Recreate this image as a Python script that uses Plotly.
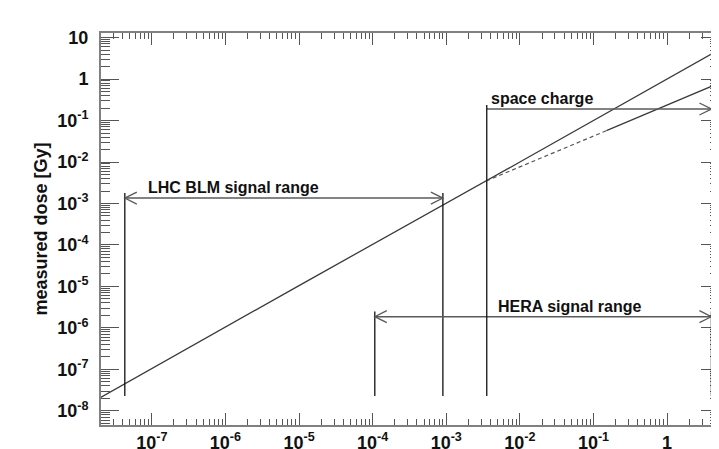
import numpy as np
import plotly.graph_objects as go

# ---- data ----
ideal_x = [1e-8, 1e-5, 1e-2, 10]
ideal_y = [1.05e-8, 1.05e-5, 1.0e-2, 10]

sc_dash_x = [3.5e-3, 1e-2, 3e-2, 0.15]
sc_dash_y = [3.5e-3, 7.7e-3, 1.75e-2, 5.7e-2]
sc_solid_x = [0.15, 1.0, 10.0]
sc_solid_y = [5.7e-2, 0.237, 1.32]

# ranges (arrows)
range_labels = ["LHC BLM signal range", "HERA signal range", "space charge"]
range_x0 = [4.3e-8, 1.07e-4, 3.55e-3]
range_x1 = [9.0e-4, 4.0, 4.0]
range_y = [1.35e-3, 1.87e-6, 0.19]
range_text_x = [8.3e-8, 4.7e-3, 3.8e-3]
range_left_head = [True, True, False]
range_vtop = [1.8e-3, 2.5e-6, 0.236]
range_vbottom = [2.3e-8, 2.3e-8, 2.3e-8]

x_tickvals = [1e-7, 1e-6, 1e-5, 1e-4, 1e-3, 1e-2, 1e-1, 1]
x_ticktext = ["10<sup>-7</sup>", "10<sup>-6</sup>", "10<sup>-5</sup>", "10<sup>-4</sup>",
              "10<sup>-3</sup>", "10<sup>-2</sup>", "10<sup>-1</sup>", "1"]
y_tickvals = [1e-8, 1e-7, 1e-6, 1e-5, 1e-4, 1e-3, 1e-2, 1e-1, 1, 10]
y_ticktext = ["10<sup>-8</sup>", "10<sup>-7</sup>", "10<sup>-6</sup>", "10<sup>-5</sup>",
              "10<sup>-4</sup>", "10<sup>-3</sup>", "10<sup>-2</sup>", "10<sup>-1</sup>", "1", "10"]

y_title = "measured dose [Gy]"

FONT = "Liberation Sans, Arial, sans-serif"
LINE_COL = "#3a3a3a"

fig = go.Figure()

fig.add_trace(go.Scatter(x=ideal_x, y=ideal_y, mode="lines",
                         line=dict(color=LINE_COL, width=1.3), showlegend=False))
fig.add_trace(go.Scatter(x=sc_dash_x, y=sc_dash_y, mode="lines",
                         line=dict(color="#555", width=1.2, dash="4px,3px"), showlegend=False))
fig.add_trace(go.Scatter(x=sc_solid_x, y=sc_solid_y, mode="lines",
                         line=dict(color=LINE_COL, width=1.3), showlegend=False))

shapes = []
annotations = []
HL = 12  # head length px
HW = 6   # head half width px
for i, lab in enumerate(range_labels):
    shapes.append(dict(type="line", xref="x", yref="y",
                       x0=range_x0[i], x1=range_x1[i], y0=range_y[i], y1=range_y[i],
                       line=dict(color="#5a5a5a", width=1.5)))
    xs = [range_x0[i]] + ([range_x1[i]] if range_left_head[i] else [])
    for xv in xs:
        shapes.append(dict(type="line", xref="x", yref="y",
                           x0=xv, x1=xv, y0=range_vbottom[i], y1=range_vtop[i],
                           line=dict(color="#111", width=1.3)))
    shapes.append(dict(type="path", xref="x", yref="y", xsizemode="pixel", ysizemode="pixel",
                       xanchor=range_x1[i], yanchor=range_y[i],
                       path=f"M {-HL},{HW} L 0,0 L {-HL},{-HW}",
                       line=dict(color="#5a5a5a", width=1.3)))
    if range_left_head[i]:
        shapes.append(dict(type="path", xref="x", yref="y", xsizemode="pixel", ysizemode="pixel",
                           xanchor=range_x0[i], yanchor=range_y[i],
                           path=f"M {HL},{HW} L 0,0 L {HL},{-HW}",
                           line=dict(color="#5a5a5a", width=1.3)))
    annotations.append(dict(x=np.log10(range_text_x[i]), y=np.log10(range_y[i]),
                            xref="x", yref="y", text=lab, showarrow=False,
                            xanchor="left", yanchor="bottom", yshift=0,
                            font=dict(family=FONT, size=16, color="#111", weight="bold")))

axis_common = dict(type="log", showgrid=False, zeroline=False, showline=True,
                   linecolor="#808080", linewidth=2, mirror="allticks",
                   ticks="inside", tickcolor="#555", tickwidth=1.3,
                   tickmode="array", automargin=False,
                   tickfont=dict(family=FONT, size=18, color="#111", weight="bold"))

fig.update_xaxes(**axis_common, range=[-7.69, 0.705], tickvals=x_tickvals, ticktext=x_ticktext,
                 ticklen=12, ticklabelstandoff=0,
                 minor=dict(ticks="inside", ticklen=6, tickcolor="#555", tickwidth=1.2, dtick="D1"))
fig.update_yaxes(**axis_common, range=[-8.34, 1.11], tickvals=y_tickvals, ticktext=y_ticktext,
                 ticklen=18, ticklabelstandoff=7,
                 minor=dict(ticks="inside", ticklen=9, tickcolor="#555", tickwidth=1.2, dtick="D1"),
                 title=dict(text=y_title, standoff=5,
                            font=dict(family=FONT, size=18, color="#111", weight="bold")))

# page body has an 8px default margin; the figure size/margins compensate for it
fig.update_layout(width=711, height=441, margin=dict(l=93, r=0, t=25, b=24),
                  paper_bgcolor="white", plot_bgcolor="white",
                  shapes=shapes, annotations=annotations, showlegend=False)

fig.write_html("out.html")
